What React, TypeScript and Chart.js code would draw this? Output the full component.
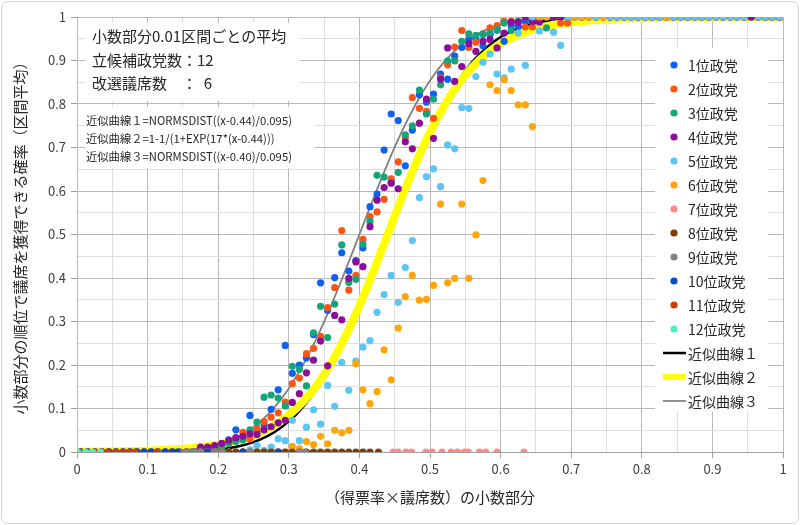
import React, { useEffect, useRef } from 'react';
import { Chart, registerables } from 'chart.js';

Chart.register(...registerables);

// ---- data ----
const X_TICK_LABELS = ['0', '0.1', '0.2', '0.3', '0.4', '0.5', '0.6', '0.7', '0.8', '0.9', '1'];
const Y_TICK_LABELS = ['0', '0.1', '0.2', '0.3', '0.4', '0.5', '0.6', '0.7', '0.8', '0.9', '1'];

const SERIES_LABELS = ['1位政党', '2位政党', '3位政党', '4位政党', '5位政党', '6位政党', '7位政党', '8位政党', '9位政党', '10位政党', '11位政党', '12位政党'];
const CURVE_LABELS = ['近似曲線１', '近似曲線２', '近似曲線３'];
const INFO_LINES = ['小数部分0.01区間ごとの平均', '立候補政党数：12', '改選議席数　：  6'];
const FORMULA_LINES = [
  '近似曲線１=NORMSDIST((x-0.44)/0.095)',
  '近似曲線２=1-1/(1+EXP(17*(x-0.44)))',
  '近似曲線３=NORMSDIST((x-0.40)/0.095)',
];

// bin positions (fractional part, 0.01 intervals)
const XS = [
  0.005, 0.015, 0.025, 0.035, 0.045, 0.055, 0.065, 0.075, 0.085, 0.095,
  0.105, 0.115, 0.125, 0.135, 0.145, 0.155, 0.165, 0.175, 0.185, 0.195,
  0.205, 0.215, 0.225, 0.235, 0.245, 0.255, 0.265, 0.275, 0.285, 0.295,
  0.305, 0.315, 0.325, 0.335, 0.345, 0.355, 0.365, 0.375, 0.385, 0.395,
  0.405, 0.415, 0.425, 0.435, 0.445, 0.455, 0.465, 0.475, 0.485, 0.495,
  0.505, 0.515, 0.525, 0.535, 0.545, 0.555, 0.565, 0.575, 0.585, 0.595,
  0.605, 0.615, 0.625, 0.635, 0.645, 0.655, 0.665, 0.675, 0.685, 0.695,
  0.705, 0.715, 0.725, 0.735, 0.745, 0.755, 0.765, 0.775, 0.785, 0.795,
  0.805, 0.815, 0.825, 0.835, 0.845, 0.855, 0.865, 0.875, 0.885, 0.895,
  0.905, 0.915, 0.925, 0.935, 0.945, 0.955, 0.965, 0.975, 0.985, 0.995,
];

const S1 = [
  0, 0, 0, 0, 0, 0, 0, 0, 0, 0,
  0, 0, 0, 0, 0, 0, 0, 0.004, 0.008, 0.012,
  0.018, 0.028, 0.051, 0.035, 0.084, 0.048, 0.063, 0.098, 0.143, 0.245,
  0.181, 0.2, 0.216, 0.27, 0.389, 0.326, 0.401, 0.458, 0.416, 0.44,
  0.469, 0.564, 0.593, 0.694, 0.777, 0.762, 0.658, 0.74, 0.821, 0.804,
  0.823, 0.869, 0.857, 0.91, 0.93, 0.948, 0.95, 0.934, 0.96, 0.97,
  0.944, 0.98, 0.978, 0.99, 1, 1, 1, 1, 1, 1,
  1, 1, 1, 1, 1, 1, 1, 1, 1, 1,
  1, 1, 1, 1, 1, 1, 1, 1, 1, 1,
  1, 1, 1, 1, 1, 1, 1, 1, 1, 1,
];
const S2 = [
  0, 0, 0, 0, 0, 0, 0, 0, 0, 0,
  0, 0, 0, 0, 0, 0, 0, 0.003, 0.006, 0.01,
  0.014, 0.02, 0.03, 0.045, 0.03, 0.055, 0.07, 0.08, 0.09, 0.115,
  0.157, 0.17, 0.226, 0.238, 0.266, 0.332, 0.378, 0.509, 0.372, 0.406,
  0.489, 0.541, 0.552, 0.581, 0.628, 0.667, 0.723, 0.815, 0.79, 0.783,
  0.767, 0.86, 0.89, 0.931, 0.969, 0.93, 0.942, 0.961, 0.975, 0.98,
  0.99, 0.99, 0.99, 0.977, 0.977, 1, 1, 1, 0.986, 0.986,
  1, 1, 1, 1, 1, 1, 1, 1, 1, 1,
  1, 1, 1, 1, 1, 1, 1, 1, 1, 1,
  1, 1, 1, 1, 1, 1, 1, 1, 1, 1,
];
const S3 = [
  0, 0, 0, 0, 0, 0, 0, 0, 0, 0,
  0, 0, 0, 0, 0, 0, 0, 0.005, 0.008, 0.01,
  0.011, 0.02, 0.024, 0.028, 0.051, 0.069, 0.126, 0.131, 0.124, 0.106,
  0.197, 0.19, 0.152, 0.274, 0.335, 0.263, 0.34, 0.476, 0.39, 0.397,
  0.478, 0.53, 0.636, 0.632, 0.62, 0.643, 0.729, 0.75, 0.832, 0.777,
  0.811, 0.844, 0.899, 0.899, 0.944, 0.961, 0.958, 0.96, 0.963, 0.971,
  0.986, 0.969, 0.99, 1, 1, 1, 0.975, 1, 1, 1,
  1, 1, 1, 1, 1, 1, 1, 1, 1, 1,
  1, 1, 1, 1, 1, 1, 1, 1, 1, 1,
  1, 1, 1, 1, 1, 1, 1, 1, 1, 1,
];
const S4 = [
  0, 0, 0, 0, 0, 0, 0, 0, 0, 0,
  0, 0, 0, 0, 0, 0, 0, 0.011, 0.011, 0.015,
  0.02, 0.027, 0.033, 0.036, 0.042, 0.04, 0.051, 0.058, 0.067, 0.073,
  0.114, 0.134, 0.182, 0.211, 0.255, 0.198, 0.314, 0.304, 0.399, 0.437,
  0.426, 0.518, 0.579, 0.608, 0.618, 0.605, 0.713, 0.697, 0.756, 0.811,
  0.721, 0.857, 0.929, 0.852, 0.886, 0.938, 0.921, 0.944, 0.948, 0.929,
  0.963, 0.988, 0.988, 1, 0.99, 0.988, 1, 1, 1, 1,
  1, 1, 1, 1, 1, 1, 1, 1, 1, 1,
  1, 1, 1, 1, 1, 1, 1, 1, 1, 1,
  1, 1, 1, 1, 1, 1, 1, 1, 1, 1,
];
const S5 = [
  0, 0, 0, 0, 0, 0, 0, 0, 0, 0,
  0, 0, 0, 0, 0, 0, 0, 0, 0, 0,
  0, 0, 0, 0, 0.005, 0.015, 0.004, 0.011, 0.03, 0.026,
  0.073, 0.026, 0.057, 0.097, 0.064, 0.153, 0.105, 0.206, 0.142, 0.209,
  0.241, 0.256, 0.321, 0.362, 0.406, 0.344, 0.424, 0.486, 0.585, 0.633,
  0.651, 0.61, 0.706, 0.697, 0.792, 0.79, 0.863, 0.896, 0.915, 0.869,
  0.86, 0.88, 0.963, 0.889, 1, 0.968, 1, 0.965, 0.935, 1,
  1, 1, 1, 1, 1, 1, 1, 1, 1, 1,
  1, 1, 1, 1, 1, 1, 1, 1, 1, 1,
  1, 1, 1, 1, 1, null, 1, 1, 1, 1,
];
const S6 = [
  0, 0, 0, 0, 0, 0, 0, 0, 0, 0,
  0, 0, 0, 0, 0, 0, 0, 0, 0, 0,
  0, 0, 0, 0, 0, 0, 0, 0, 0, 0,
  0.013, 0.008, 0.024, 0.017, 0.036, 0.019, 0.05, 0.044, 0.05, 0.203,
  0.143, 0.111, 0.139, 0.235, 0.166, 0.285, 0.357, 0.406, 0.349, 0.351,
  0.383, 0.57, 0.389, 0.399, 0.57, 0.399, 0.499, 0.624, 0.844, 0.831,
  0.856, 0.831, 0.798, 0.798, 0.748, 1, 1, null, null, null,
  1, 1, 1, null, 1, null, null, null, null, null,
  null, null, null, 1, null, null, null, null, null, null,
  null, null, null, null, null, null, null, null, null, null,
];

const X7 = [0.448, 0.455, 0.466, 0.474, 0.494, 0.503, 0.517, 0.53, 0.539, 0.549, 0.554, 0.57, 0.579, 0.595, 0.633];
const Y7 = [0, 0, 0, 0, 0, 0, 0, 0, 0, 0, 0, 0, 0, 0, 0];

const X8 = [
  0.005, 0.015, 0.025, 0.035, 0.045, 0.055, 0.065, 0.075, 0.085, 0.095,
  0.105, 0.115, 0.125, 0.135, 0.145, 0.155, 0.165, 0.175, 0.185, 0.195,
  0.205, 0.215, 0.225, 0.235, 0.245, 0.255, 0.265, 0.275, 0.285, 0.295,
  0.305, 0.315, 0.325, 0.335, 0.345, 0.355, 0.365, 0.375, 0.385, 0.395,
  0.405, 0.415, 0.427,
];
const Y8 = [
  0, 0, 0, 0, 0, 0, 0, 0, 0, 0,
  0, 0, 0, 0, 0, 0, 0, 0, 0, 0,
  0, 0, 0, 0, 0, 0, 0, 0, 0, 0,
  0, 0, 0, 0, 0, 0, 0, 0, 0, 0,
  0, 0, 0,
];

const X9 = [
  0.005, 0.015, 0.025, 0.035, 0.045, 0.055, 0.065, 0.075, 0.085, 0.095,
  0.105, 0.115, 0.125, 0.135, 0.145, 0.155, 0.165, 0.175, 0.185, 0.195,
  0.205, 0.245, 0.315, 0.323,
];
const Y9 = [
  0, 0, 0, 0, 0, 0, 0, 0, 0, 0,
  0, 0, 0, 0, 0, 0, 0, 0, 0, 0,
  0, 0, 0, 0,
];

const X10 = [
  0.005, 0.015, 0.025, 0.035, 0.045, 0.055, 0.065, 0.075, 0.085, 0.095,
  0.105, 0.125, 0.135, 0.142, 0.185, 0.235, 0.285,
];
const Y10 = [0, 0, 0, 0, 0, 0, 0, 0, 0, 0, 0, 0, 0, 0, 0, 0, 0];

const X11 = [0.005, 0.015, 0.025, 0.035, 0.044, 0.055, 0.065, 0.074, 0.082, 0.113];
const Y11 = [0, 0, 0, 0, 0, 0, 0, 0, 0, 0];

const X12 = [0.001, 0.012, 0.022, 0.033];
const Y12 = [0, 0, 0, 0];

// fitted curves (values as drawn)
const CX = [
  0, 0.02, 0.04, 0.06, 0.08, 0.1, 0.12, 0.14, 0.16, 0.18,
  0.2, 0.22, 0.24, 0.26, 0.28, 0.3, 0.32, 0.34, 0.36, 0.38,
  0.4, 0.42, 0.44, 0.46, 0.48, 0.5, 0.52, 0.54, 0.56, 0.58,
  0.6, 0.62, 0.64, 0.66, 0.68, 0.7, 0.72, 0.74, 0.76, 0.78,
  0.8, 0.82, 0.84, 0.86, 0.88, 0.9, 0.92, 0.94, 0.96, 0.98, 1,
];
const C1 = [
  0, 0, 0, 0.00003, 0.00008, 0.00017, 0.00038, 0.0008, 0.0016, 0.0031,
  0.0058, 0.0103, 0.0176, 0.029, 0.0461, 0.0703, 0.1033, 0.1462, 0.1999, 0.2637,
  0.3369, 0.4166, 0.5, 0.5834, 0.6631, 0.7363, 0.8001, 0.8538, 0.8967, 0.9297,
  0.9539, 0.971, 0.9824, 0.9897, 0.9942, 0.9969, 0.9984, 0.9992, 0.9996, 0.9998,
  1, 1, 1, 1, 1, 1, 1, 1, 1, 1, 1,
];
const C2 = [
  0.00056, 0.00079, 0.00111, 0.00156, 0.00219, 0.00308, 0.00432, 0.00606, 0.00849, 0.0119,
  0.0166, 0.0232, 0.0323, 0.0448, 0.0618, 0.0847, 0.115, 0.1545, 0.2042, 0.265,
  0.3363, 0.4158, 0.5, 0.5842, 0.6637, 0.735, 0.7958, 0.8455, 0.885, 0.9153,
  0.9382, 0.9552, 0.9677, 0.9768, 0.9834, 0.9881, 0.9915, 0.9939, 0.9957, 0.9969,
  0.9978, 0.9984, 0.9989, 0.9992, 0.9994, 0.9996, 0.9997, 0.9998, 0.9999, 0.9999, 0.9999,
];
const C3 = [
  0, 0.00003, 0.00008, 0.00017, 0.00038, 0.0008, 0.0016, 0.0031, 0.0058, 0.0103,
  0.0176, 0.029, 0.0461, 0.0703, 0.1033, 0.1462, 0.1999, 0.2637, 0.3369, 0.4166,
  0.5, 0.5834, 0.6631, 0.7363, 0.8001, 0.8538, 0.8967, 0.9297, 0.9539, 0.971,
  0.9824, 0.9897, 0.9942, 0.9969, 0.9984, 0.9992, 0.9996, 0.9998, 1, 1,
  1, 1, 1, 1, 1, 1, 1, 1, 1, 1, 1,
];

// ---- styles ----
const SERIES_COLORS = [
  '#1160f0', '#ff5414', '#16a57a', '#8c0f9a', '#5cc5f6', '#ffa509',
  '#ff8a8a', '#7a3e08', '#838383', '#0a48c6', '#c4400e', '#4df2c2',
];
const CURVE_COLORS = ['#000000', '#ffff00', '#808080'];
const CURVE_WIDTHS = [2.5, 8, 1.8];
const FONT = '"Noto Sans CJK JP", "Noto Sans", sans-serif';

const isMajor = (v: number) => Math.round(v * 20) % 2 === 0;

const pairs = (xs: number[], ys: (number | null)[]) =>
  xs.map((x, i) => ({ x, y: ys[i] })).filter((p) => p.y !== null && p.y !== undefined);

const framePlugin = {
  id: 'frame',
  beforeDraw(chart: any) {
    const ctx = chart.ctx;
    ctx.save();
    ctx.fillStyle = '#ffffff';
    ctx.fillRect(0, 0, chart.width, chart.height);
    ctx.restore();
  },
  afterDraw(chart: any) {
    const ctx = chart.ctx;
    ctx.save();
    ctx.strokeStyle = '#d4d4d4';
    ctx.lineWidth = 1;
    ctx.beginPath();
    (ctx as any).roundRect(1.5, 1.5, chart.width - 3, chart.height - 3, 6);
    ctx.stroke();
    ctx.restore();
  },
};

const textBoxPlugin = {
  id: 'textBoxes',
  beforeDatasetsDraw(chart: any) {
    const ctx = chart.ctx;
    ctx.save();
    ctx.fillStyle = '#ffffff';
    ctx.fillRect(85, 23, 215, 78);
    ctx.fillRect(85, 107, 230, 61);
    ctx.fillStyle = '#262626';
    ctx.textBaseline = 'middle';
    ctx.textAlign = 'left';
    ctx.font = `15px ${FONT}`;
    const infoY = [36, 60, 83];
    INFO_LINES.forEach((t, i) => ctx.fillText(t, 92, infoY[i]));
    ctx.font = `11.3px ${FONT}`;
    const fY = [121, 139, 157];
    FORMULA_LINES.forEach((t, i) => ctx.fillText(t, 86, fY[i]));
    ctx.restore();
  },
};

const legendPlugin = {
  id: 'customLegend',
  afterDatasetsDraw(chart: any) {
    const ctx = chart.ctx;
    ctx.save();
    ctx.fillStyle = '#ffffff';
    ctx.fillRect(655, 48, 113, 364);
    ctx.textBaseline = 'middle';
    ctx.textAlign = 'left';
    ctx.font = `14px ${FONT}`;
    chart.data.datasets.forEach((ds: any, i: number) => {
      const y = 65 + i * 24;
      if (ds.showLine) {
        ctx.strokeStyle = ds.borderColor;
        ctx.lineWidth = Math.min(ds.borderWidth, 6);
        ctx.beginPath();
        ctx.moveTo(663, y);
        ctx.lineTo(686, y);
        ctx.stroke();
      } else {
        ctx.fillStyle = ds.backgroundColor;
        ctx.beginPath();
        ctx.arc(674, y, 3.6, 0, Math.PI * 2);
        ctx.fill();
      }
      ctx.fillStyle = '#262626';
      ctx.fillText(ds.label, 688, y + 1);
    });
    ctx.restore();
  },
};

export default function App() {
  const ref = useRef<HTMLCanvasElement | null>(null);

  useEffect(() => {
    document.body.style.margin = '0';
    const canvas = ref.current;
    if (!canvas) return;

    const seriesData = [
      pairs(XS, S1), pairs(XS, S2), pairs(XS, S3), pairs(XS, S4), pairs(XS, S5), pairs(XS, S6),
      pairs(X7, Y7), pairs(X8, Y8), pairs(X9, Y9), pairs(X10, Y10), pairs(X11, Y11), pairs(X12, Y12),
    ];
    const scatterSets = seriesData.map((d, i) => ({
      type: 'scatter' as const,
      label: SERIES_LABELS[i],
      data: d,
      backgroundColor: SERIES_COLORS[i],
      borderColor: SERIES_COLORS[i],
      pointRadius: 3.6,
      pointBorderWidth: 0,
      pointHoverRadius: 3.6,
      showLine: false,
      order: 40 - i,
    }));
    const curveData = [C1, C2, C3];
    const curveSets = curveData.map((ys, i) => ({
      type: 'line' as const,
      label: CURVE_LABELS[i],
      data: pairs(CX, ys),
      borderColor: CURVE_COLORS[i],
      backgroundColor: CURVE_COLORS[i],
      borderWidth: CURVE_WIDTHS[i],
      pointRadius: 0,
      showLine: true,
      fill: false,
      cubicInterpolationMode: 'monotone' as const,
      order: 100 - i,
    }));

    const tickFont = { family: FONT, size: 13 };
    const titleFont = { family: FONT, size: 15 };

    const chart = new Chart(canvas, {
      type: 'scatter',
      data: { datasets: [...scatterSets, ...curveSets] as any },
      options: {
        animation: false,
        responsive: false,
        maintainAspectRatio: false,
        layout: { padding: { left: 0, right: 17, top: 17, bottom: 0 } },
        plugins: { legend: { display: false }, tooltip: { enabled: false } },
        scales: {
          x: {
            type: 'linear',
            min: 0,
            max: 1,
            ticks: {
              stepSize: 0.05,
              autoSkip: false,
              maxRotation: 0,
              padding: 3,
              color: '#404040',
              font: tickFont,
              callback: (_v: any, idx: number) => (idx % 2 === 0 ? X_TICK_LABELS[idx / 2] : ''),
            },
            grid: {
              color: (c: any) => (isMajor(c.tick?.value ?? 0) ? '#b9b9b9' : '#dedede'),
              tickColor: (c: any) => (isMajor(c.tick?.value ?? 0) ? '#a0a0a0' : 'rgba(0,0,0,0)'),
              tickLength: 6,
              lineWidth: 1,
            },
            border: { color: '#a0a0a0', width: 1 },
            title: {
              display: true,
              text: '（得票率×議席数）の小数部分',
              color: '#262626',
              font: titleFont,
              padding: { top: 0, bottom: 19 },
            },
            afterFit: (s: any) => {
              s.height = 73;
            },
          },
          y: {
            type: 'linear',
            min: 0,
            max: 1,
            ticks: {
              stepSize: 0.05,
              autoSkip: false,
              padding: 5,
              color: '#404040',
              font: tickFont,
              callback: (_v: any, idx: number) => (idx % 2 === 0 ? Y_TICK_LABELS[idx / 2] : ''),
            },
            grid: {
              color: (c: any) => (isMajor(c.tick?.value ?? 0) ? '#b9b9b9' : '#dedede'),
              tickColor: (c: any) => (isMajor(c.tick?.value ?? 0) ? '#a0a0a0' : 'rgba(0,0,0,0)'),
              tickLength: 6,
              lineWidth: 1,
            },
            border: { color: '#b9b9b9', width: 1 },
            title: {
              display: true,
              text: '小数部分の順位で議席を獲得できる確率（区間平均）',
              color: '#262626',
              font: titleFont,
              padding: { top: 11, bottom: 0 },
            },
            afterFit: (s: any) => {
              s.width = 77;
            },
          },
        },
      },
      plugins: [framePlugin, textBoxPlugin, legendPlugin],
    });

    return () => chart.destroy();
  }, []);

  return (
    <div style={{ width: 800, height: 525, position: 'relative' }}>
      <canvas ref={ref} width={800} height={525} style={{ display: 'block', width: 800, height: 525 }} />
    </div>
  );
}
